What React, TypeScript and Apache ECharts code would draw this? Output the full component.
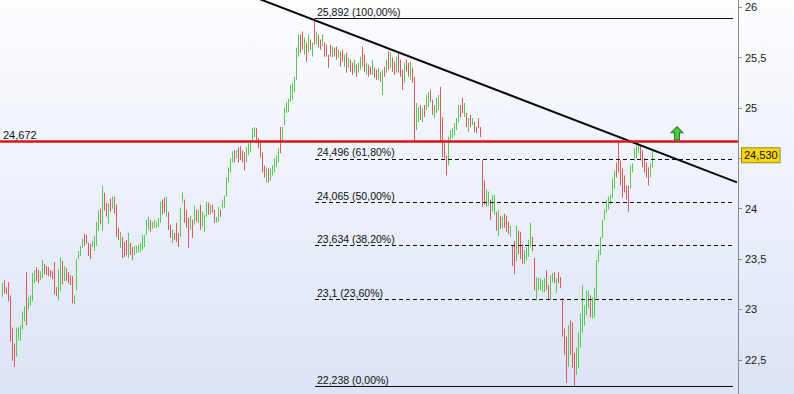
import React, { useEffect, useRef } from 'react';
import * as echarts from 'echarts';

// ---- price bars ----
const highs: number[] = [
  23.26, 23.29, 23.22, 23.27, 23.14, 22.82, 22.66, 22.82, 22.82, 22.84,
  22.98, 23.03, 23.37, 23.12, 23.14, 23.36, 23.39, 23.42, 23.39, 23.38,
  23.49, 23.45, 23.43, 23.42, 23.39, 23.38, 23.47, 23.22, 23.40, 23.52,
  23.48, 23.43, 23.41, 23.37, 23.34, 23.33, 23.14, 23.50, 23.58, 23.63,
  23.70, 23.75, 23.74, 23.66, 23.65, 23.68, 23.73, 23.87, 23.98, 24.00,
  24.23, 24.16, 24.06, 24.05, 24.10, 24.12, 24.12, 24.04, 23.81, 23.77,
  23.72, 23.67, 23.69, 23.76, 23.66, 23.62, 23.63, 23.63, 23.64, 23.66,
  23.74, 23.74, 23.89, 23.92, 23.89, 23.87, 23.89, 23.87, 23.91, 24.07,
  24.09, 24.11, 24.12, 23.97, 23.84, 23.79, 23.76, 23.86, 23.76, 24.01,
  24.16, 24.09, 23.99, 23.91, 23.93, 23.89, 24.03, 23.99, 23.99, 24.04,
  23.97, 23.94, 24.07, 24.06, 24.04, 24.04, 23.99, 23.92, 24.02, 23.99,
  24.09, 24.13, 24.31, 24.41, 24.50, 24.57, 24.58, 24.58, 24.61, 24.62,
  24.58, 24.56, 24.61, 24.65, 24.68, 24.80, 24.81, 24.80, 24.70, 24.68,
  24.56, 24.43, 24.41, 24.40, 24.40, 24.43, 24.50, 24.53, 24.60, 24.81,
  24.81, 25.00, 25.06, 25.09, 25.23, 25.25, 25.31, 25.60, 25.73, 25.73,
  25.76, 25.70, 25.65, 25.73, 25.68, 25.65, 25.892, 25.76, 25.73, 25.68,
  25.73, 25.65, 25.63, 25.53, 25.63, 25.61, 25.60, 25.61, 25.58, 25.56,
  25.58, 25.53, 25.55, 25.50, 25.48, 25.45, 25.48, 25.43, 25.45, 25.51,
  25.61, 25.53, 25.45, 25.43, 25.41, 25.48, 25.40, 25.38, 25.40, 25.36,
  25.38, 25.41, 25.48, 25.56, 25.55, 25.50, 25.46, 25.51, 25.56, 25.48,
  25.38, 25.45, 25.48, 25.45, 25.46, 25.40, 25.31, 25.05, 25.01, 25.03,
  25.00, 25.03, 25.13, 25.16, 25.18, 25.08, 25.03, 25.10, 25.13, 25.21,
  24.91, 24.65, 24.53, 24.71, 24.78, 24.80, 24.85, 24.90, 25.03, 25.03,
  25.10, 25.05, 24.95, 24.90, 24.93, 24.90, 24.86, 24.81, 24.90, 24.81,
  24.48, 24.28, 24.19, 24.17, 24.09, 24.13, 24.14, 23.97, 23.99, 23.93,
  23.92, 23.95, 23.93, 23.87, 23.83, 23.64, 23.68, 23.83, 23.78, 23.77,
  23.65, 23.59, 23.62, 23.69, 23.86, 23.72, 23.51, 23.32, 23.31, 23.31,
  23.29, 23.31, 23.39, 23.24, 23.34, 23.36, 23.37, 23.31, 23.37, 23.32,
  23.11, 22.81, 22.73, 22.84, 22.89, 22.87, 22.57, 22.62, 22.77, 22.96,
  23.24, 23.04, 23.19, 23.19, 23.14, 23.12, 23.21, 23.49, 23.59, 23.72,
  23.89, 23.99, 24.09, 24.12, 24.14, 24.30, 24.38, 24.46, 24.67, 24.48,
  24.40, 24.33, 24.23, 24.23, 24.43, 24.45, 24.60, 24.63, 24.65, 24.63,
  24.58, 24.50, 24.46, 24.41, 24.45, 24.58,
];

const lows: number[] = [
  23.12, 23.16, 23.15, 23.08, 22.68, 22.49, 22.43, 22.53, 22.69, 22.69,
  22.80, 22.88, 22.84, 23.00, 23.04, 23.08, 23.26, 23.28, 23.26, 23.29,
  23.31, 23.35, 23.34, 23.33, 23.32, 23.30, 23.15, 23.13, 23.09, 23.18,
  23.25, 23.28, 23.28, 23.26, 23.24, 23.06, 23.05, 23.19, 23.50, 23.53,
  23.61, 23.63, 23.65, 23.53, 23.50, 23.62, 23.58, 23.63, 23.78, 23.85,
  23.78, 23.98, 23.92, 23.85, 23.97, 24.00, 23.95, 23.72, 23.69, 23.61,
  23.51, 23.52, 23.54, 23.51, 23.54, 23.49, 23.54, 23.56, 23.57, 23.57,
  23.59, 23.62, 23.74, 23.79, 23.77, 23.80, 23.81, 23.81, 23.82, 23.86,
  23.94, 23.96, 23.92, 23.79, 23.71, 23.66, 23.69, 23.67, 23.62, 23.72,
  24.06, 23.86, 23.81, 23.61, 23.79, 23.71, 23.84, 23.87, 23.86, 23.79,
  23.82, 23.77, 23.92, 23.94, 23.94, 23.96, 23.86, 23.86, 23.87, 23.92,
  24.00, 24.01, 24.12, 24.26, 24.36, 24.46, 24.46, 24.50, 24.46, 24.48,
  24.46, 24.38, 24.46, 24.53, 24.56, 24.68, 24.71, 24.66, 24.60, 24.51,
  24.36, 24.31, 24.26, 24.26, 24.28, 24.33, 24.36, 24.41, 24.46, 24.55,
  24.66, 24.83, 24.95, 24.96, 25.06, 25.08, 25.16, 25.28, 25.51, 25.55,
  25.58, 25.53, 25.46, 25.55, 25.58, 25.51, 25.63, 25.63, 25.60, 25.58,
  25.61, 25.51, 25.51, 25.40, 25.51, 25.50, 25.51, 25.48, 25.50, 25.41,
  25.46, 25.41, 25.35, 25.40, 25.36, 25.33, 25.35, 25.31, 25.35, 25.38,
  25.41, 25.36, 25.33, 25.31, 25.33, 25.33, 25.30, 25.28, 25.28, 25.26,
  25.13, 25.31, 25.35, 25.38, 25.40, 25.36, 25.33, 25.35, 25.35, 25.31,
  25.18, 25.25, 25.36, 25.31, 25.28, 25.25, 24.67, 24.78, 24.86, 24.88,
  24.86, 24.91, 24.98, 25.01, 25.06, 24.93, 24.90, 24.95, 24.98, 24.67,
  24.51, 24.50, 24.33, 24.43, 24.68, 24.70, 24.73, 24.78, 24.86, 24.91,
  24.95, 24.91, 24.81, 24.76, 24.81, 24.83, 24.76, 24.75, 24.80, 24.71,
  24.02, 24.04, 24.02, 24.03, 23.89, 23.97, 23.94, 23.78, 23.73, 23.80,
  23.80, 23.81, 23.77, 23.75, 23.72, 23.43, 23.35, 23.48, 23.55, 23.50,
  23.45, 23.45, 23.49, 23.52, 23.62, 23.58, 23.19, 23.09, 23.19, 23.19,
  23.17, 23.17, 23.19, 23.09, 23.09, 23.27, 23.26, 23.16, 23.26, 23.21,
  22.73, 22.55, 22.27, 22.43, 22.55, 22.42, 22.238, 22.35, 22.42, 22.62,
  22.77, 22.84, 22.94, 23.01, 22.92, 22.91, 22.92, 23.11, 23.47, 23.54,
  23.71, 23.89, 23.96, 23.99, 24.04, 24.11, 24.20, 24.31, 24.36, 24.23,
  24.11, 24.16, 24.09, 23.97, 24.20, 24.36, 24.48, 24.50, 24.55, 24.48,
  24.41, 24.36, 24.31, 24.23, 24.31, 24.41,
];

// g = up bar (green), r = down bar (red)
const directions: string = [
  'grrrrrrggg', 'ggrggggrrg', 'grrrrrrrgg', 'rgrrrrgggg', 'grrrrggggr',
  'grrgrgrrrg', 'rrrgrrgggg', 'ggggrggggg', 'rrgrrgrrrg', 'grrrgrgrgr',
  'gggrgrrggr', 'ggggggrgrr', 'rrgggggrrr', 'rrgrgggggr', 'gggggggggr',
  'rgrgrgrgrr', 'grrrrgrrgr', 'rgrgrrgrgg', 'rrgrrgrrgr', 'grgrgrrgrr',
  'rgrrgrrggr', 'grggrrgggr', 'rrrggggggr', 'rgrgrgrrrr', 'rrggrggrgr',
  'grrrgrrgrr', 'rggggrrggg', 'ggrrggrgrr', 'rrrgrrrggg', 'ggggrggggg',
  'gggggggrrr', 'rrrrgggggr', 'rrrrgg',
].join('');

// ---- drawing levels ----
const fibLevels: number[] = [25.892, 24.496, 24.065, 23.634, 23.1, 22.238];
const fibLabels: string[] = [
  '25,892 (100,00%)', '24,496 (61,80%)', '24,065 (50,00%)',
  '23,634 (38,20%)', '23,1 (23,60%)', '22,238 (0,00%)',
];
const fibSolid: boolean[] = [true, false, false, false, false, true];
const fibStartSlot = 157;
const fibEndSlot = 366;
const resistanceLevel = 24.672;
const resistanceLabel = '24,672';
const lastPrice = 24.53;
const lastPriceLabel = '24,530';
const trendStart: [number, number] = [120, 26.1525];
const trendEnd: [number, number] = [368, 24.262];
const arrowCoord: [number, number] = [338, 24.75];
const slotCount = 369;
const yMin = 22;
const yMax = 26.5;
const yStep = 0.5;

const FONT = "'Liberation Sans', Arial, sans-serif";

export default function App() {
  const ref = useRef<HTMLDivElement>(null);

  useEffect(() => {
    if (!ref.current) return;
    const chart = echarts.init(ref.current, undefined, { renderer: 'svg' });

    const slots = Array.from({ length: slotCount }, (_, i) => String(i));
    const candles: any[] = [['-', '-', '-', '-']];
    for (let i = 0; i < highs.length; i++) {
      const up = directions[i] === 'g';
      candles.push(up ? [lows[i], highs[i], lows[i], highs[i]] : [highs[i], lows[i], lows[i], highs[i]]);
    }

    const textStyle = { color: '#111', fontSize: 11, fontFamily: FONT };

    const fibLines = fibLevels.map((lv, i) => [
      {
        coord: [fibStartSlot, lv],
        lineStyle: { color: '#111', width: 1, type: fibSolid[i] ? 'solid' : [4, 3] },
        label: {
          show: true,
          position: 'insideStartTop',
          formatter: fibLabels[i],
          distance: [2, 1],
          ...textStyle,
          fontSize: 10.5,
        },
      },
      { coord: [fibEndSlot, lv] },
    ]);

    const option: any = {
      animation: false,
      grid: {
        left: 0,
        width: 738,
        top: -43.05,
        height: 453.15,
        containLabel: false,
        outerBoundsMode: 'none',
      },
      xAxis: {
        type: 'category',
        data: slots,
        boundaryGap: true,
        show: false,
      },
      yAxis: {
        type: 'value',
        position: 'right',
        min: yMin,
        max: yMax,
        interval: yStep,
        scale: true,
        axisLine: { show: true, lineStyle: { color: '#8a8a8a', width: 1 } },
        axisTick: { show: true, length: 4, lineStyle: { color: '#8a8a8a' } },
        splitLine: { show: false },
        axisLabel: {
          margin: 7,
          color: '#1a1a1a',
          fontSize: 11,
          fontFamily: FONT,
          formatter: (v: number) => {
            if (v <= yMin || v >= yMax || Math.abs(v - 24.5) < 1e-9) return '';
            return String(v).replace('.', ',');
          },
        },
      },
      series: [
        {
          type: 'candlestick',
          data: candles,
          barWidth: 1,
          silent: true,
          itemStyle: {
            color: '#56c956',
            color0: '#d95c5c',
            borderColor: '#56c956',
            borderColor0: '#d95c5c',
            borderWidth: 1,
          },
          emphasis: { disabled: true },
          markLine: {
            silent: true,
            symbol: 'none',
            animation: false,
            data: [
              ...fibLines,
              [
                {
                  coord: trendStart,
                  lineStyle: { color: '#0a0a0a', width: 2, type: 'solid' },
                  label: { show: false },
                },
                { coord: trendEnd },
              ],
              {
                yAxis: resistanceLevel,
                lineStyle: { color: '#dc1414', width: 2.5, type: 'solid' },
                label: {
                  show: true,
                  position: 'insideStartTop',
                  formatter: resistanceLabel,
                  distance: [3, 1],
                  ...textStyle,
                },
              },
              {
                yAxis: lastPrice,
                lineStyle: { color: 'rgba(0,0,0,0)', width: 1, type: 'solid' },
                label: {
                  show: true,
                  position: 'end',
                  formatter: lastPriceLabel,
                  distance: 4,
                  backgroundColor: '#f2d60f',
                  borderColor: '#9c8a1c',
                  borderWidth: 1,
                  padding: [2, 2, 1, 2],
                  opacity: 1,
                  ...textStyle,
                },
              },
            ],
          },
          markPoint: {
            silent: true,
            animation: false,
            symbol: 'path://M6,0 L12,6 L8.5,6 L8.5,13 L3.5,13 L3.5,6 L0,6 Z',
            symbolSize: [12, 13],
            itemStyle: { color: '#45cc38', borderColor: '#237a1e', borderWidth: 1 },
            label: { show: false },
            data: [{ coord: arrowCoord }],
          },
        },
      ],
    };

    chart.setOption(option);
    return () => chart.dispose();
  }, []);

  return (
    <div
      ref={ref}
      style={{
        position: 'fixed',
        left: 0,
        top: 0,
        width: 794,
        height: 394,
        background: 'linear-gradient(to bottom, #fdfdff 0%, #dbe3f6 100%)',
      }}
    />
  );
}
